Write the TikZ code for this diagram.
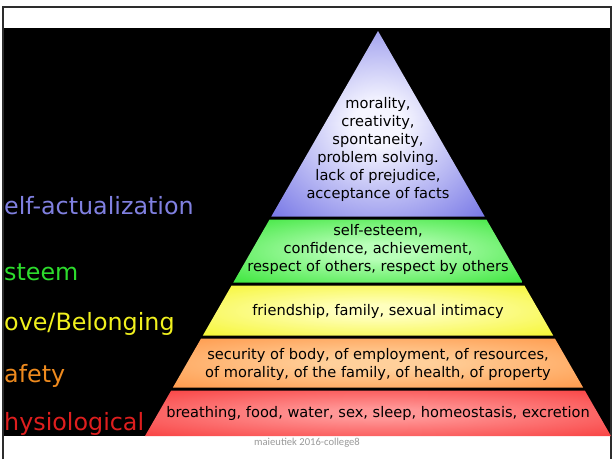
\documentclass[tikz,border=0pt]{standalone}
\usepackage{fontspec}
\setmainfont{DejaVu Sans}
\newfontfamily\fussfont{Carlito}

\definecolor{rahmen}{RGB}{45,45,45}
\definecolor{selbst}{RGB}{128,128,224}
\definecolor{achtung}{RGB}{45,220,45}
\definecolor{liebe}{RGB}{240,240,30}
\definecolor{sicher}{RGB}{238,138,30}
\definecolor{koerper}{RGB}{222,30,30}
% Stufenfarben (hell/satt)
\definecolor{lilahell}{RGB}{245,245,255}
\definecolor{lilasatt}{RGB}{108,108,228}
\definecolor{gruenhell}{RGB}{185,255,185}
\definecolor{gruensatt}{RGB}{50,228,50}
\definecolor{gelbhell}{RGB}{255,255,190}
\definecolor{gelbsatt}{RGB}{245,245,40}
\definecolor{orangehell}{RGB}{255,208,155}
\definecolor{orangesatt}{RGB}{255,150,70}
\definecolor{rothell}{RGB}{255,150,150}
\definecolor{rotsatt}{RGB}{248,60,60}
\colorlet{glanzinnen}{white}
\colorlet{glanzaussen}{black}

% weiche radiale Schattierung fuer die Stufen
\pgfdeclareradialshading[glanzinnen,glanzaussen]{glanz}{\pgfpointorigin}{%
  color(0bp)=(glanzinnen); color(6bp)=(glanzinnen);
  color(38bp)=(glanzaussen); color(50bp)=(glanzaussen)}

% Stufe von y=#1 bis y=#2 in den Farben #3/#4 (Spitze bei (378,31))
\newcommand{\stufe}[4]{%
  \colorlet{glanzinnen}{#3}\colorlet{glanzaussen}{#4}%
  \shade[shading=glanz] ({378-(#1-31)*0.5753},#1) -- ({378+(#1-31)*0.5753},#1)
    -- ({378+(#2-31)*0.5753},#2) -- ({378-(#2-31)*0.5753},#2) -- cycle;}

\begin{document}
\begin{tikzpicture}[x=1pt,y=-1pt,
    stufentext/.style={font=\fontsize{14.6}{18}\selectfont, align=center, text=black, inner sep=0pt},
    ebene/.style={font=\fontsize{23.8}{28}\selectfont, anchor=base west, inner sep=0pt}]
  \useasboundingbox (0,0) rectangle (612,459);
  % Hintergrund
  \fill[black] (3,28) rectangle (611,436);
  \draw[rahmen, line width=1.5pt] (3,459) -- (3,7) -- (611,7) -- (611,459);
  % Stufen
  \stufe{31}{216.5}{lilahell}{lilasatt}
  \stufe{219.5}{282.5}{gruenhell}{gruensatt}
  \stufe{285.5}{335.5}{gelbhell}{gelbsatt}
  \stufe{338.5}{387.5}{orangehell}{orangesatt}
  \stufe{390.5}{436}{rothell}{rotsatt}
  % Texte in der Pyramide
  \node[stufentext] (selbsttext) at (378,149) {morality,\\creativity,\\spontaneity,\\problem solving.\\lack of prejudice,\\acceptance of facts};
  \node[stufentext] (achtungtext) at (378,249.5) {self-esteem,\\confidence, achievement,\\respect of others, respect by others};
  \node[stufentext] (liebetext) at (378,311) {friendship, family, sexual intimacy};
  \node[stufentext] (sichertext) at (378,364) {security of body, of employment, of resources,\\of morality, of the family, of health, of property};
  \node[stufentext] (koerpertext) at (378,413) {breathing, food, water, sex, sleep, homeostasis, excretion};
  % Beschriftungen links
  \node[ebene, text=selbst] (selbst) at (4,214) {elf-actualization};
  \node[ebene, text=achtung] (achtung) at (4,280) {steem};
  \node[ebene, text=liebe] (liebe) at (4,330) {ove/Belonging};
  \node[ebene, text=sicher] (sicher) at (4,382) {afety};
  \node[ebene, text=koerper] (koerper) at (4,430) {hysiological};
  % Fusszeile
  \node[font=\fussfont\fontsize{10.6}{12}\selectfont, text=black!40] (quelle) at (307,443) {maieutiek 2016-college8};
\end{tikzpicture}
\end{document}
